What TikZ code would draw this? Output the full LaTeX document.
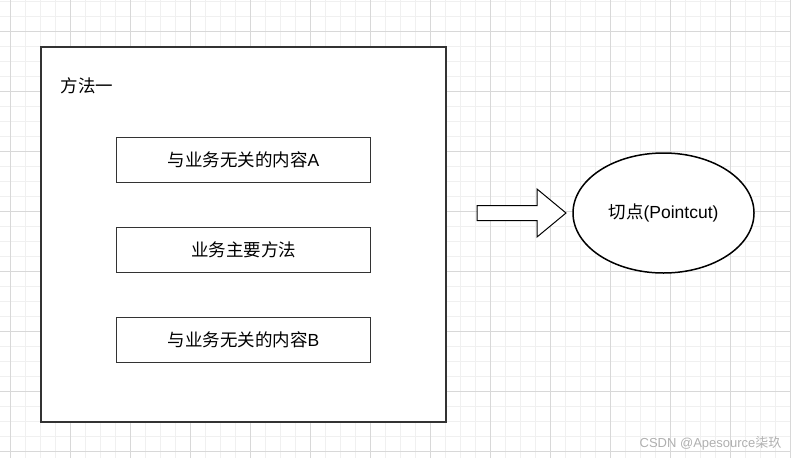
\documentclass[tikz,border=0pt]{standalone}
\usepackage{fontspec}
\setmainfont{Liberation Sans}
\newfontfamily\cjk{Noto Sans CJK SC}
\definecolor{gridmajor}{RGB}{216,216,216}
\definecolor{gridminor}{RGB}{240,240,240}
\definecolor{boxline}{RGB}{51,51,51}
\definecolor{mark}{RGB}{175,175,175}
\usepackage{tikz}
\usetikzlibrary{shapes.geometric}

\tikzset{
  stepbox/.style={draw=boxline, line width=1.8pt, minimum width=254pt, minimum height=45pt,
    inner sep=0pt, font=\fontsize{17.5}{20}\selectfont},
}

\begin{document}
\begin{tikzpicture}[x=1pt, y=-1pt]
  \useasboundingbox (0,0) rectangle (791,458);
  %% 1. Grid
  \foreach \x in {10,25,...,790} \draw[gridminor, line width=1pt] (\x,0) -- (\x,458);
  \foreach \y in {1,16,...,457} \draw[gridminor, line width=1pt] (0,\y) -- (791,\y);
  \foreach \x in {10,70,...,790} \draw[gridmajor, line width=1pt] (\x,0) -- (\x,458);
  \foreach \y in {31,91,...,451} \draw[gridmajor, line width=1pt] (0,\y) -- (791,\y);
  %% 2. Method box
  \draw[boxline, line width=1.8pt, fill=white] (41,47) rectangle (446,422);
  \node[anchor=west, font=\fontsize{17.5}{20}\selectfont] (title) at (57,86) {\cjk 方法一};
  \node[stepbox] (partA) at (243.5,160) {{\cjk 与业务无关的内容}A};
  \node[stepbox] (main)  at (243.5,250) {\cjk 业务主要方法};
  \node[stepbox] (partB) at (243.5,340) {{\cjk 与业务无关的内容}B};
  %% 3. Block arrow
  \draw[black, line width=1pt, fill=white, line join=miter]
    (477,205.5) -- (537,205.5) -- (537,189) -- (566,213) -- (537,237) -- (537,220.5) -- (477,220.5) -- cycle;
  %% 4. Pointcut
  \node[ellipse, draw=black, line width=1.5pt, fill=white, minimum width=181pt, minimum height=120pt,
    inner sep=0pt, font=\fontsize{17.5}{20}\selectfont] (cut) at (663.5,213) {{\cjk 切点}(Pointcut)};
  %% 5. Watermark
  \node[anchor=east, text=mark, font=\fontsize{13}{15}\selectfont] (mark) at (785,443) {CSDN @Apesource{\cjk 柒玖}};
\end{tikzpicture}
\end{document}
